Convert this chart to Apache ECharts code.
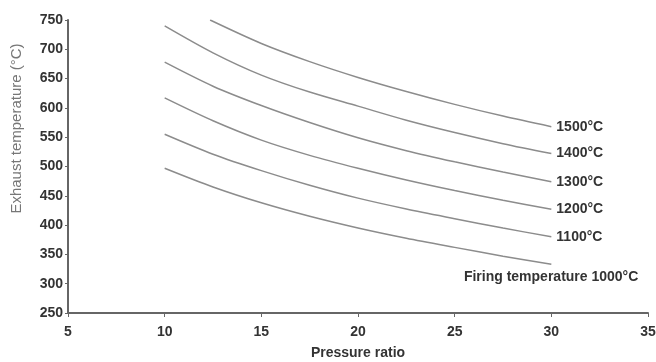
<!DOCTYPE html>
<html>
<head>
<meta charset="utf-8">
<script src="https://cdn.jsdelivr.net/npm/echarts@6/dist/echarts.min.js"></script>
<style>html,body{margin:0;padding:0;background:#fff;}#c{width:656px;height:362px;}</style>
</head>
<body>
<div id="c"></div>
<script>
const xTicks = [5, 10, 15, 20, 25, 30, 35];
const yTicks = [250, 300, 350, 400, 450, 500, 550, 600, 650, 700, 750];
const seriesNames = ['1000°C', '1100°C', '1200°C', '1300°C', '1400°C', '1500°C'];
const endLabels = ['Firing temperature 1000°C', '1100°C', '1200°C', '1300°C', '1400°C', '1500°C'];
const t1000 = [[10, 497], [12.5, 465], [15, 438], [17.5, 415], [20, 395], [22.5, 377.5], [25, 362], [27.5, 347], [30, 333]];
const t1100 = [[10, 555], [12.5, 521], [15, 493], [17.5, 468], [20, 446], [22.5, 427.5], [25, 411], [27.5, 395], [30, 380]];
const t1200 = [[10, 617], [12.5, 578], [15, 545], [17.5, 519], [20, 497], [22.5, 477], [25, 459], [27.5, 442.5], [30, 427]];
const t1300 = [[10, 678], [12.5, 637], [15, 604], [17.5, 575], [20, 549], [22.5, 527], [25, 508], [27.5, 490.5], [30, 474]];
const t1400 = [[10, 740], [12.5, 694], [15, 656], [17.5, 627], [20, 603], [22.5, 579], [25, 558], [27.5, 539], [30, 522]];
const t1500 = [[12.35, 750], [15, 710], [17.5, 679], [20, 652], [22.5, 628], [25, 606], [27.5, 586], [30, 568]];
const allData = [t1000, t1100, t1200, t1300, t1400, t1500];

const font = 'Liberation Sans';
const chart = echarts.init(document.getElementById('c'));
const series = allData.map((d, i) => ({
  name: seriesNames[i],
  type: 'line',
  data: d,
  smooth: 0.3,
  showSymbol: false,
  lineStyle: { color: '#8c8c8c', width: 1.5 },
  endLabel: i === 0 ? {
    show: true, formatter: endLabels[i], fontFamily: font, fontWeight: 'bold', fontSize: 14,
    color: '#333', align: 'right', offset: [82, 13], distance: 5
  } : {
    show: true, formatter: endLabels[i], fontFamily: font, fontWeight: 'bold', fontSize: 14,
    color: '#333', distance: 5
  }
}));

chart.setOption({
  animation: false,
  backgroundColor: '#fff',
  grid: { left: 68, right: 8, top: 20, bottom: 49, containLabel: false, outerBoundsMode: 'none' },
  xAxis: {
    type: 'value', min: 5, max: 35, interval: 5,
    name: 'Pressure ratio', nameLocation: 'middle', nameGap: 33,
    nameTextStyle: { fontFamily: font, fontWeight: 'bold', fontSize: 14, color: '#333' },
    axisLine: { lineStyle: { color: '#666', width: 2 } },
    axisTick: { show: true, length: 4, lineStyle: { color: '#666' } },
    axisLabel: { fontFamily: font, fontWeight: 'bold', fontSize: 14, color: '#333', margin: 12,
      formatter: v => xTicks.includes(v) ? String(v) : '' },
    splitLine: { show: false }
  },
  yAxis: {
    type: 'value', min: 250, max: 750, interval: 50,
    name: 'Exhaust temperature (°C)', nameLocation: 'middle', nameGap: 44,
    nameTextStyle: { fontFamily: font, fontSize: 15, color: '#777', padding: [0, 0, 0, 76] },
    axisLine: { show: true, lineStyle: { color: '#666', width: 2 } },
    axisTick: { show: true, length: 3, lineStyle: { color: '#666' } },
    axisLabel: { fontFamily: font, fontWeight: 'bold', fontSize: 14, color: '#333', margin: 5,
      formatter: v => yTicks.includes(v) ? String(v) : '' },
    splitLine: { show: false }
  },
  series: series
});
</script>
</body>
</html>
